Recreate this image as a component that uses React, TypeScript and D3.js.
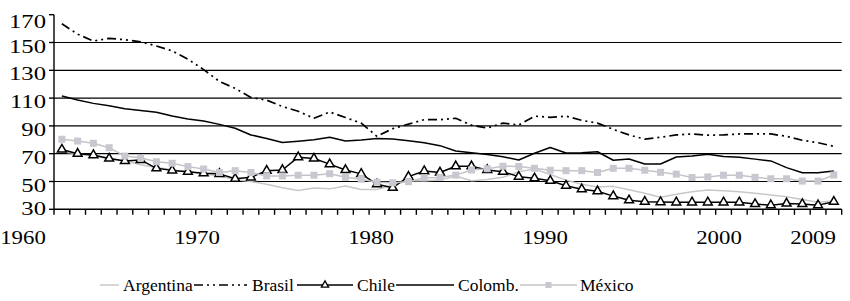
import * as d3 from "d3";
import { useEffect, useRef } from "react";

const years = d3.range(1960, 2010);

const argentina = [
  71.4, 70, 68.3, 66.5, 65, 62, 60, 58.5, 57, 55.5,
  54, 51.5, 50, 48, 45.5, 43.5, 45.3, 44.7, 46.8, 44.2,
  44.2, 47.5, 50.5, 50.5, 51, 54, 50.5, 51.5, 53, 57,
  59, 55, 51, 48, 46, 46.5, 44, 41.5, 38.6, 40.8,
  42.7, 43.8, 43.3, 42.7, 41.5, 40.3, 39, 37, 35, 36,
];
const brasil = [
  163.5, 156, 151, 153, 152, 150.5, 147.5, 144, 138, 130.5,
  122, 117, 110.5, 108.5, 104, 100.5, 95.5, 100, 96, 92,
  82.5, 88, 91.3, 94.5, 94.5, 95.5, 90.5, 88.5, 92, 90.6,
  97, 96.2, 97, 94, 92, 87.5, 83.5, 80.5, 81.8, 83.5,
  84.2, 83.3, 83.5, 84.2, 84.2, 84.2, 82.5, 79.7, 77.9, 75.3,
];
const chile = [
  73, 70, 69, 66.5, 64.8, 65.5, 59.5, 58, 57, 56,
  55.5, 52, 53, 57.8, 58.3, 67.5, 66.5, 62.5, 58.3, 55.5,
  48, 45.5, 53.5, 57.5, 56.5, 61, 61, 58.3, 57, 53.5,
  52.3, 50.5, 47, 44.5, 43, 39.5, 36.5, 35.5, 35.2, 35,
  35, 35, 35, 35, 33.8, 33, 34.2, 33.8, 33, 35.5,
];
const colombia = [
  111.5, 108.6, 106.2, 104.5, 102.4, 101, 99.8, 97.1, 95, 93.5,
  91.1, 88.3, 83.5, 81, 78, 79, 80, 81.8, 79.1, 79.9,
  81, 80.6, 79.4, 77.9, 75.8, 72, 70.7, 69.5, 67.8, 65.5,
  70.3, 74.5, 70.5, 70.7, 71.4, 65.3, 66.2, 62.6, 62.6, 67.6,
  68.4, 69.6, 68, 67.4, 66.1, 64.8, 60, 56.3, 56.3, 57.6,
];
const mexico = [
  80.4, 79.1, 77.5, 74.3, 68.3, 67.1, 64.2, 63.1, 60.7, 59,
  56.5, 57.8, 56.5, 54, 54, 54.5, 54.5, 55.6, 53, 51.6,
  49.5, 49.1, 49.9, 52.7, 52.9, 54.6, 58.3, 59.2, 61, 60.8,
  59.5, 58.1, 57.8, 57.8, 56.5, 59.5, 59.5, 58.1, 56.6, 55.3,
  52.9, 53.3, 54.5, 54.5, 53, 52, 52, 50.3, 50.3, 54.7,
];

const yTicks = [30, 50, 70, 90, 110, 130, 150, 170];
const gridValues = [50, 70, 90, 110, 130, 150];
const decadeLabels = ["1960", "1970", "1980", "1990", "2000"];
const lastLabel = "2009";

type Series = {
  name: string;
  values: number[];
  color: string;
  dash?: string;
  marker?: "triangle" | "square";
};

const series: Series[] = [
  { name: "Argentina", values: argentina, color: "#c8c8c8" },
  { name: "Brasil", values: brasil, color: "#000", dash: "9,4,2,4,2,4" },
  { name: "Chile", values: chile, color: "#000", marker: "triangle" },
  { name: "Colomb.", values: colombia, color: "#000" },
  { name: "México", values: mexico, color: "#c4c4c4", marker: "square" },
];

export default function App() {
  const ref = useRef<SVGSVGElement | null>(null);

  useEffect(() => {
    if (!ref.current) return;
    const svg = d3.select(ref.current);
    svg.selectAll("*").remove();

    const width = 850;
    const height = 301;
    const left = 54;
    const right = 841.7;
    const top = 14.7;
    const bottom = 209.3;
    const font = "'Liberation Serif', 'DejaVu Serif', 'Times New Roman', serif";

    svg
      .attr("width", width)
      .attr("height", height)
      .style("font-family", font);

    const x = d3.scaleBand<number>().domain(years).range([left, right]);
    const cx = (yr: number) => x(yr)! + x.bandwidth() / 2;
    const y = d3.scaleLinear().domain([30, 170]).range([bottom, top]);

    // decade labels sit on their own even spacing, not under the points
    const xLab = d3.scalePoint<string>().domain(decadeLabels).range([23, 719]);
    const yLab = d3
      .scaleLinear()
      .domain([30, 50, 150, 170])
      .range([208, 185, 46, 21]);

    /* grid */
    svg
      .append("g")
      .selectAll("line")
      .data(gridValues)
      .enter()
      .append("line")
      .attr("x1", left)
      .attr("x2", right)
      .attr("y1", (d) => y(d))
      .attr("y2", (d) => y(d))
      .attr("stroke", "#000")
      .attr("stroke-width", 1.2);

    /* axes */
    const axes = svg.append("g").attr("stroke", "#000").attr("stroke-width", 1.4);
    axes.append("line").attr("x1", left).attr("x2", left).attr("y1", top).attr("y2", bottom);
    axes.append("line").attr("x1", left).attr("x2", right).attr("y1", bottom).attr("y2", bottom);
    axes
      .selectAll(".yt")
      .data(yTicks)
      .enter()
      .append("line")
      .attr("x1", left - 5)
      .attr("x2", left)
      .attr("y1", (d) => y(d))
      .attr("y2", (d) => y(d));
    const bounds = years.map((yr) => x(yr)!).concat([right]);
    axes
      .selectAll(".xt")
      .data(bounds)
      .enter()
      .append("line")
      .attr("x1", (d) => d)
      .attr("x2", (d) => d)
      .attr("y1", bottom)
      .attr("y2", bottom + 5.5);

    /* tick labels */
    svg
      .append("g")
      .selectAll("text")
      .data(yTicks)
      .enter()
      .append("text")
      .attr("transform", (d) => `translate(46,${yLab(d)}) scale(1.3,1)`)
      .attr("text-anchor", "end")
      .attr("dy", "0.35em")
      .style("font-family", font)
      .style("font-size", "19px")
      .text((d) => d);

    const xl = svg.append("g");
    xl.selectAll("text")
      .data(decadeLabels)
      .enter()
      .append("text")
      .attr("transform", (d) => `translate(${xLab(d)},244) scale(1.2,1)`)
      .attr("text-anchor", "middle")
      .style("font-family", font)
      .style("font-size", "19px")
      .text((d) => d);
    xl.append("text")
      .attr("transform", `translate(${cx(2009) + 2},244) scale(1.2,1)`)
      .attr("text-anchor", "end")
      .style("font-family", font)
      .style("font-size", "19px")
      .text(lastLabel);

    /* lines */
    const line = d3
      .line<number>()
      .x((_, i) => cx(years[i]))
      .y((d) => y(d));

    const tri = d3.symbol().type(d3.symbolTriangle).size(34);

    series.forEach((s) => {
      svg
        .append("path")
        .attr("d", line(s.values)!)
        .attr("fill", "none")
        .attr("stroke", s.color)
        .attr("stroke-width", s.dash ? 1.7 : 1.5)
        .attr("stroke-dasharray", s.dash ?? null)
        .attr("stroke-linejoin", "round");

      if (s.marker === "triangle") {
        svg
          .append("g")
          .selectAll("path")
          .data(s.values)
          .enter()
          .append("path")
          .attr("d", tri()!)
          .attr("transform", (d, i) => `translate(${cx(years[i])},${y(d)})`)
          .attr("fill", "#fff")
          .attr("stroke", "#000")
          .attr("stroke-width", 1.5);
      }
      if (s.marker === "square") {
        svg
          .append("g")
          .selectAll("rect")
          .data(s.values)
          .enter()
          .append("rect")
          .attr("x", (_, i) => cx(years[i]) - 3.5)
          .attr("y", (d) => y(d) - 3.5)
          .attr("width", 7)
          .attr("height", 7)
          .attr("fill", "#c8c8d0");
      }
    });

    /* legend */
    const legendY = 285;
    const legendItems = [
      { s: series[0], x0: 100, x1: 119, tx: 123 },
      { s: series[1], x0: 194, x1: 247, tx: 252 },
      { s: series[2], x0: 297, x1: 353, tx: 357 },
      { s: series[3], x0: 396, x1: 454, tx: 458 },
      { s: series[4], x0: 520, x1: 577, tx: 580 },
    ];
    const leg = svg.append("g");
    legendItems.forEach(({ s, x0, x1, tx }) => {
      leg
        .append("line")
        .attr("x1", x0)
        .attr("x2", x1)
        .attr("y1", legendY)
        .attr("y2", legendY)
        .attr("stroke", s.color)
        .attr("stroke-width", s.dash ? 1.7 : 1.5)
        .attr("stroke-dasharray", s.dash ?? null);
      const mx = (x0 + x1) / 2;
      if (s.marker === "triangle") {
        leg
          .append("path")
          .attr("d", d3.symbol().type(d3.symbolTriangle).size(22)()!)
          .attr("transform", `translate(${mx},${legendY})`)
          .attr("fill", "#fff")
          .attr("stroke", "#000")
          .attr("stroke-width", 1.3);
      }
      if (s.marker === "square") {
        leg
          .append("rect")
          .attr("x", mx - 3)
          .attr("y", legendY - 3)
          .attr("width", 6)
          .attr("height", 6)
          .attr("fill", "#c8c8d0");
      }
      leg
        .append("text")
        .attr("x", tx)
        .attr("y", legendY + 6)
        .style("font-family", font)
        .style("font-size", "17.5px")
        .text(s.name);
    });
  }, []);

  return (
    <svg
      ref={ref}
      style={{ position: "absolute", left: 0, top: 0, display: "block" }}
    />
  );
}
